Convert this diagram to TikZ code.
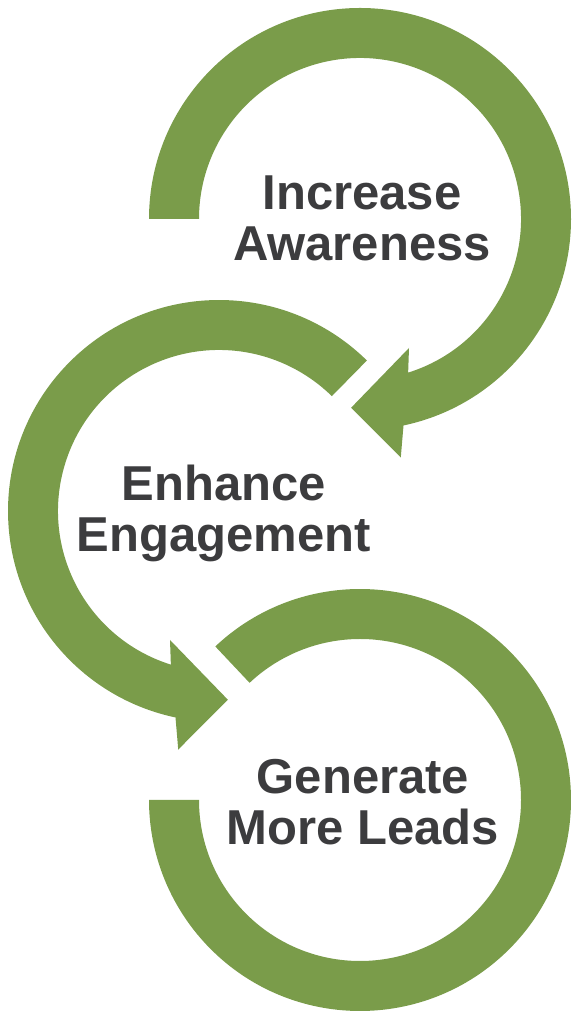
\documentclass[tikz,border=0pt]{standalone}
\usepackage{fontspec}
\setmainfont{Liberation Sans}
\usetikzlibrary{calc}
\usetikzlibrary{positioning}
\definecolor{loop-green}{HTML}{7A9C4A}
\definecolor{loop-text}{HTML}{3C3C3E}
\tikzset{
  ring/.style={fill=loop-green, draw=none},
}

\begin{document}
\begin{tikzpicture}[
  x=1pt, y=1pt,
  goal/.style={align=center, inner sep=0pt, text=loop-text, font=\bfseries\fontsize{49}{51}\selectfont}
]
\useasboundingbox (0,0) rectangle (574,1011);

% Centres
\coordinate (c1) at (360,792);
\coordinate (c2) at (219,500);
\coordinate (c3) at (360,211);

% Increase Awareness
\fill[ring] ($(c1)+(180:211)$) arc[start angle=180, end angle=-78.1, radius=211]
  -- ($(c1)+(-80.3:242)$) -- ($(c1)+(-92.7:189)$) -- ($(c1)+(-69.2:138)$)
  -- ($(c1)+(-72.6:161)$) arc[start angle=-72.6, end angle=180, radius=161] -- cycle;
\node[goal] (awareness) at (362,793) {Increase\\Awareness};

% Enhance Engagement
\fill[ring] ($(c2)+(45.5:211)$) arc[start angle=45.5, end angle=258.1, radius=211]
  -- ($(c2)+(260.3:242)$) -- ($(c2)+(272.7:189)$) -- ($(c2)+(249.2:138)$)
  -- ($(c2)+(252.6:161)$) arc[start angle=252.6, end angle=45.5, radius=161] -- cycle;
\node[goal] (engagement) at (224,498) {Enhance\\Engagement};

% Generate More Leads
\fill[ring] ($(c3)+(133.3:211)$) arc[start angle=133.3, end angle=-180, radius=211]
  -- ($(c3)+(180:161)$) arc[start angle=-180, end angle=133.3, radius=161] -- cycle;
\node[goal] (leads) at (363,209) {Generate\\More Leads};
\end{tikzpicture}
\end{document}
